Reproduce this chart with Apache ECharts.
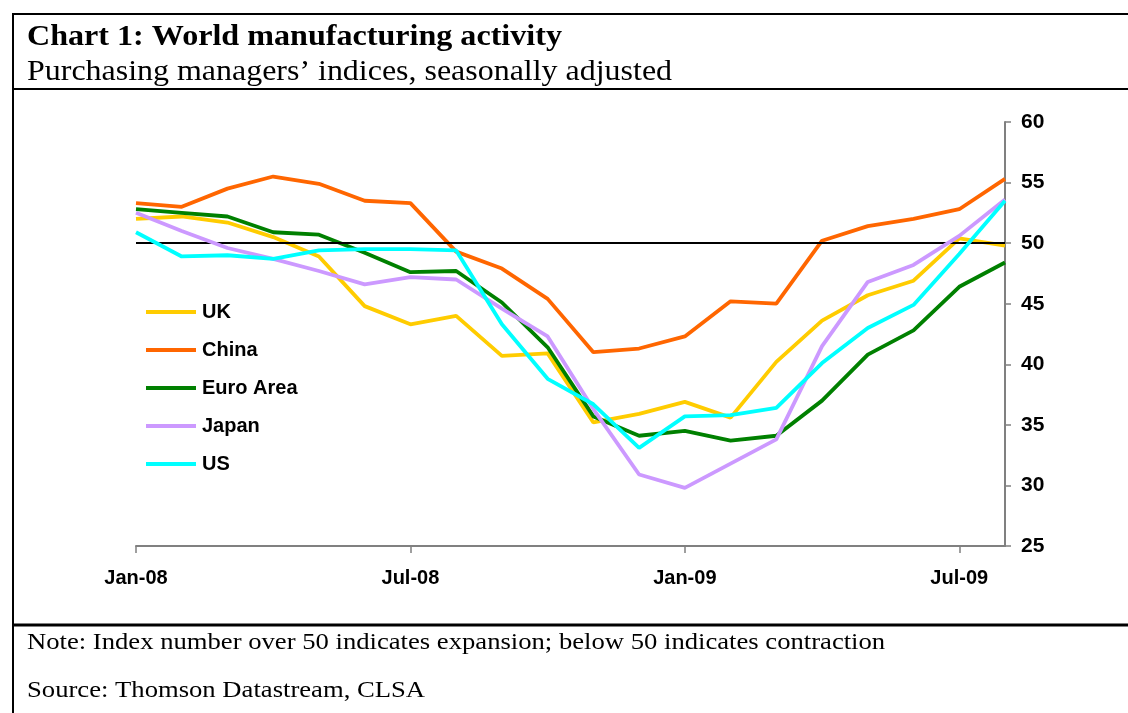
<!DOCTYPE html>
<html>
<head>
<meta charset="utf-8">
<script src="https://cdn.jsdelivr.net/npm/echarts@6/dist/echarts.min.js"></script>
<style>
  html, body { margin: 0; padding: 0; background: #fff; }
  #chart { width: 1128px; height: 713px; }
</style>
</head>
<body>
<div id="chart"></div>
<script>
// Monthly PMI readings, Jan-08 to Aug-09
const months = ['Jan-08','Feb-08','Mar-08','Apr-08','May-08','Jun-08','Jul-08','Aug-08','Sep-08','Oct-08','Nov-08','Dec-08',
                'Jan-09','Feb-09','Mar-09','Apr-09','May-09','Jun-09','Jul-09','Aug-09'];
const uk     = [52.0, 52.2, 51.7, 50.5, 48.9, 44.8, 43.3, 44.0, 40.7, 40.9, 35.2, 35.9, 36.9, 35.6, 40.2, 43.6, 45.7, 46.9, 50.4, 49.8];
const china  = [53.3, 53.0, 54.5, 55.5, 54.9, 53.5, 53.3, 49.3, 47.9, 45.4, 41.0, 41.3, 42.3, 45.2, 45.0, 50.2, 51.4, 52.0, 52.8, 55.3];
const euro   = [52.8, 52.5, 52.2, 50.9, 50.7, 49.2, 47.6, 47.7, 45.1, 41.4, 35.7, 34.1, 34.5, 33.7, 34.1, 37.0, 40.8, 42.8, 46.4, 48.4];
const japan  = [52.5, 51.0, 49.6, 48.7, 47.7, 46.6, 47.2, 47.0, 44.6, 42.3, 36.3, 30.9, 29.8, 31.8, 33.8, 41.5, 46.8, 48.2, 50.6, 53.6];
const us     = [50.9, 48.9, 49.0, 48.7, 49.4, 49.5, 49.5, 49.4, 43.3, 38.8, 36.7, 33.1, 35.7, 35.8, 36.4, 40.1, 43.0, 44.9, 49.1, 53.5];
const seriesNames = ['UK', 'China', 'Euro Area', 'Japan', 'US'];
const seriesColors = ['#FFCC00', '#FF6600', '#008000', '#CC99FF', '#00FFFF'];
const expansionLevel = 50;

const titleText = 'Chart 1: World manufacturing activity';
const subtitleText = 'Purchasing managers\u2019 indices, seasonally adjusted';
const noteText = 'Note: Index number over 50 indicates expansion; below 50 indicates contraction';
const sourceText = 'Source: Thomson Datastream, CLSA';

const sans = 'Liberation Sans, Arial, sans-serif';
const serif = 'Liberation Serif, Times New Roman, serif';

const chart = echarts.init(document.getElementById('chart'), null, { renderer: 'canvas' });

const values = [uk, china, euro, japan, us];
const series = values.map((d, i) => ({
  name: seriesNames[i],
  type: 'line',
  data: d,
  symbol: 'none',
  lineStyle: { color: seriesColors[i], width: 3.8 },
  itemStyle: { color: seriesColors[i] },
  animation: false,
  z: 2 + i
}));
series[0].markLine = {
  silent: true,
  symbol: 'none',
  label: { show: false },
  lineStyle: { color: '#000', width: 2, type: 'solid' },
  data: [{ yAxis: expansionLevel }],
  animation: false
};

// Serif text block, widened slightly to the set width of the page typeface
function serifText(text, x, y, size, weight, sx) {
  return {
    type: 'text', x: x, y: y, scaleX: sx, silent: true,
    style: { text: text, fill: '#000', font: weight + ' ' + size + 'px ' + serif,
             textAlign: 'left', textVerticalAlign: 'middle' }
  };
}

chart.setOption({
  animation: false,
  backgroundColor: '#fff',
  graphic: [
    { type: 'rect', shape: { x: 13, y: 14, width: 1130, height: 710 },
      style: { fill: 'none', stroke: '#000', lineWidth: 2 }, silent: true },
    { type: 'line', shape: { x1: 13, y1: 89, x2: 1140, y2: 89 },
      style: { stroke: '#000', lineWidth: 2 }, silent: true },
    { type: 'line', shape: { x1: 13, y1: 625, x2: 1140, y2: 625 },
      style: { stroke: '#000', lineWidth: 3 }, silent: true },
    serifText(titleText, 27, 37, 30, 'bold', 1.07),
    serifText(subtitleText, 27, 72, 30, 'normal', 1.065),
    serifText(noteText, 27, 643, 24, 'normal', 1.11),
    serifText(sourceText, 27, 691, 24, 'normal', 1.11)
  ],
  legend: {
    orient: 'vertical',
    left: 146,
    top: 302,
    padding: 0,
    itemWidth: 50,
    itemHeight: 4,
    itemGap: 18,
    icon: 'rect',
    data: seriesNames,
    textStyle: { fontFamily: sans, fontWeight: 'bold', fontSize: 20, color: '#000', lineHeight: 20, padding: [0, 0, 0, 1] }
  },
  grid: { left: 136, right: 123, top: 122, bottom: 167, containLabel: false },
  xAxis: {
    type: 'category',
    data: months,
    boundaryGap: false,
    axisLine: { lineStyle: { color: '#808080', width: 2 } },
    axisTick: { show: true, interval: 5, length: 7, lineStyle: { color: '#808080', width: 1.5 } },
    axisLabel: { interval: 5, margin: 22, fontFamily: sans, fontWeight: 'bold', fontSize: 20, color: '#000' },
    splitLine: { show: false }
  },
  yAxis: {
    type: 'value',
    position: 'right',
    min: 25,
    max: 60,
    interval: 5,
    axisLine: { show: true, lineStyle: { color: '#808080', width: 2 } },
    axisTick: { show: true, length: 6, lineStyle: { color: '#808080', width: 1.5 } },
    axisLabel: { margin: 16, fontFamily: sans, fontWeight: 'bold', fontSize: 21, color: '#000' },
    splitLine: { show: false }
  },
  series: series
});
</script>
</body>
</html>
